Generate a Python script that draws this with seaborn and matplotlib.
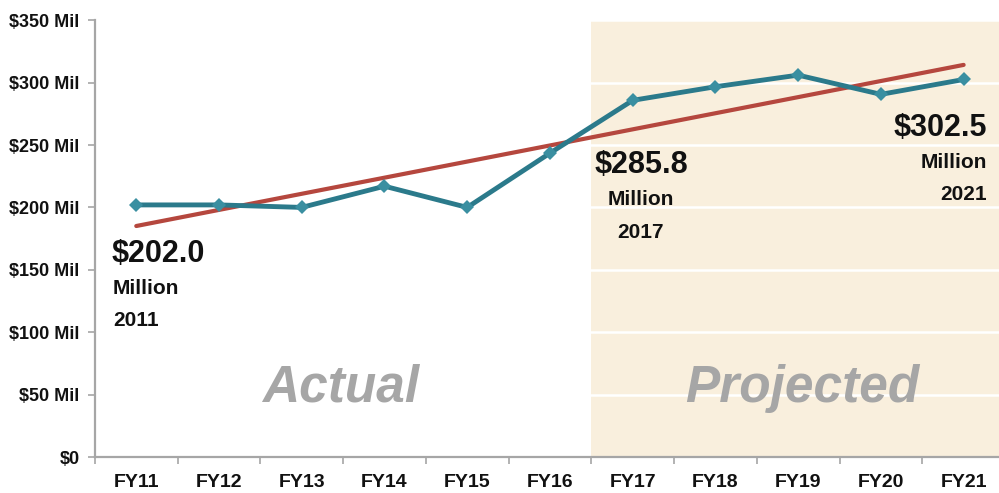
import matplotlib
matplotlib.use("Agg")
import matplotlib.pyplot as plt
import numpy as np
import pandas as pd
import seaborn as sns
from matplotlib.ticker import MultipleLocator, FuncFormatter

# data ($ millions)
years = ["FY11", "FY12", "FY13", "FY14", "FY15", "FY16",
         "FY17", "FY18", "FY19", "FY20", "FY21"]
revenue = [202.0, 202.0, 200.0, 217.0, 200.0, 243.5,
           285.8, 296.7, 306.0, 290.6, 302.5]
first_projected = "FY17"

callouts = [("$202.0", "Million", "2011"),
            ("$285.8", "Million", "2017"),
            ("$302.5", "Million", "2021")]

sns.set_theme(style="white")
plt.rcParams["font.family"] = ["Liberation Sans Narrow", "Liberation Sans", "DejaVu Sans"]
plt.rcParams["font.weight"] = "bold"

teal = "#2b7a8b"
red = "#b5473e"
shade = "#f9efdd"

df = pd.DataFrame({"pos": np.arange(len(years)), "year": years, "value": revenue})

fig = plt.figure(figsize=(9.99, 4.93), dpi=100)
ax = fig.add_axes([0.095, 0.073, 0.911, 0.886])

# projected region
p0 = years.index(first_projected) - 0.5
ax.axvspan(p0, len(years) - 0.5, ymax=1.005, color=shade, zorder=0, lw=0)
for yv in range(50, 351, 50):
    ax.axhline(yv, color="white", lw=1.8, zorder=1)

# trend line (least squares fit)
sns.regplot(data=df, x="pos", y="value", scatter=False, ci=None, truncate=True,
            line_kws={"color": red, "lw": 3, "zorder": 3}, ax=ax)

sns.lineplot(data=df, x="pos", y="value", color=teal, lw=3.5, marker="D",
             markersize=7.5, markeredgewidth=0, markerfacecolor="#3a8fa1",
             zorder=4, ax=ax)

ax.set_xlim(-0.5, len(years) - 0.5)
ax.set_ylim(0, 350)
ax.yaxis.set_major_locator(MultipleLocator(50))
ax.yaxis.set_major_formatter(FuncFormatter(lambda v, p: "$0" if v == 0 else f"${v:.0f} Mil"))
ax.set_xticks(df["pos"])
ax.set_xticklabels(years)
ax.set_xticks(np.arange(-0.5, len(years), 1.0), minor=True)
ax.tick_params(axis="x", which="major", length=0, pad=12, labelsize=14)
ax.tick_params(axis="x", which="minor", length=5, width=1.2, color="#a6a6a6", direction="out", bottom=True)
ax.tick_params(axis="y", which="major", length=5, width=1.2, color="#a6a6a6", direction="out",
               left=True, pad=6, labelsize=13)
for lab in ax.get_xticklabels() + ax.get_yticklabels():
    lab.set_fontweight("bold")
    lab.set_color("#111111")

sns.despine(ax=ax, top=True, right=True)
ax.spines["left"].set_color("#a6a6a6")
ax.spines["bottom"].set_color("#a6a6a6")
ax.spines["left"].set_linewidth(1.6)
ax.spines["bottom"].set_linewidth(1.6)
ax.set_xlabel("")
ax.set_ylabel("")

# region labels
ax.text(2.47, 55, "Actual", fontsize=37, style="italic", fontweight="bold",
        color="#a6a6a6", ha="center", va="center", zorder=2)
ax.text(8.05, 55, "Projected", fontsize=37, style="italic", fontweight="bold",
        color="#a6a6a6", ha="center", va="center", zorder=2)

# callouts: (x, y of big number, alignment)
spots = [(-0.3, 163, "left"), (6.1, 234, "center"), (10.28, 264, "right")]
for (big, mid, yr), (xp, yp, ha) in zip(callouts, spots):
    dx = 0.02 if ha == "left" else 0
    ax.text(xp, yp, big, fontsize=22, fontweight="bold", ha=ha, va="center", color="#111111")
    ax.text(xp + dx, yp - 28, mid, fontsize=15, fontweight="bold",
            ha=ha, va="center", color="#111111")
    ax.text(xp + dx, yp - 54, yr, fontsize=15, fontweight="bold",
            ha=ha, va="center", color="#111111")

fig.savefig("out.png", dpi=100)
